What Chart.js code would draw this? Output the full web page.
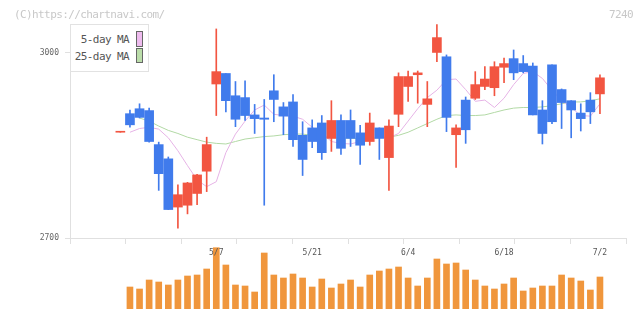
<!DOCTYPE html>
<html><head><meta charset="utf-8">
<script src="https://cdn.jsdelivr.net/npm/chart.js@4"></script>
<style>
html,body{margin:0;padding:0;background:#fff;}
#wrap{position:relative;width:640px;height:311px;overflow:hidden;background:#fff;font-family:"DejaVu Sans Mono",monospace;}
canvas{position:absolute;left:0;top:0;}
.hdr{position:absolute;top:8px;font-size:11px;letter-spacing:-0.6px;color:#c8c8c8;line-height:14px;white-space:nowrap;}
#legend{position:absolute;left:70px;top:24px;width:79px;height:48px;border:1px solid #e2e2e2;background:#fff;box-sizing:border-box;}
#legend .t{position:absolute;right:19px;font-size:11px;letter-spacing:-0.6px;line-height:14px;color:#555;white-space:nowrap;}
#legend .s{position:absolute;left:65px;width:7px;box-sizing:border-box;border:1px solid #666;}
</style></head>
<body>
<div id="wrap">
  <canvas id="vol" width="640" height="311"></canvas>
  <canvas id="price" width="640" height="311"></canvas>
  <div class="hdr" style="left:14px;">(C)https://chartnavi.com/</div>
  <div class="hdr" style="right:7px;">7240</div>
  <div id="legend">
    <div class="t" style="top:8px;">5-day MA</div>
    <div class="s" style="top:6px;height:16px;background:#eebbee;"></div>
    <div class="t" style="top:25px;">25-day MA</div>
    <div class="s" style="top:23px;height:15px;background:#bbddaa;"></div>
  </div>
</div>
<script>
const dates = ['4/18','4/19','4/22','4/23','4/24','4/25','4/26','4/30','5/1','5/2','5/7','5/8','5/9','5/10','5/13','5/14','5/15','5/16','5/17','5/20','5/21','5/22','5/23','5/24','5/27','5/28','5/29','5/30','5/31','6/3','6/4','6/5','6/6','6/7','6/10','6/11','6/12','6/13','6/14','6/17','6/18','6/19','6/20','6/21','6/24','6/25','6/26','6/27','6/28','7/1','7/2'];
const open  = [2871,2901,2909,2906,2851,2828,2750,2753,2772,2808,2949,2966,2930,2927,2899,2894,2938,2912,2920,2866,2878,2886,2861,2890,2890,2870,2856,2878,2830,2900,2945,2964,2916,3000,2993,2867,2923,2926,2945,2943,2976,2990,2982,2978,2907,2980,2940,2922,2902,2923,2933];
const high  = [2871,2907,2917,2910,2855,2831,2786,2790,2803,2863,3038,2966,2953,2954,2916,2924,2964,2919,2932,2888,2891,2898,2922,2899,2907,2882,2902,2878,2891,2967,2970,2970,2953,3045,2996,2883,2928,2969,2977,2985,2991,3004,2995,2983,2922,2980,2941,2922,2917,2935,2964];
const low   = [2871,2879,2894,2855,2777,2746,2716,2739,2754,2775,2898,2904,2880,2890,2869,2753,2888,2867,2848,2801,2846,2827,2840,2835,2848,2819,2850,2827,2777,2880,2921,2918,2880,2985,2872,2814,2853,2924,2940,2930,2951,2956,2967,2899,2852,2885,2877,2862,2873,2885,2901];
const close = [2871,2883,2895,2856,2804,2746,2770,2789,2802,2851,2969,2922,2892,2898,2893,2892,2924,2897,2859,2827,2856,2838,2890,2845,2861,2850,2886,2861,2881,2961,2961,2967,2925,3024,2895,2878,2875,2948,2957,2977,2982,2967,2969,2899,2869,2888,2919,2907,2893,2904,2959];
const volume = [null,22000,20000,29000,27000,24000,29000,33000,34000,40000,61300,44000,24000,23000,17000,56000,34000,31000,35000,31000,22000,30000,21000,25000,29000,22000,34000,38000,40000,42000,31000,23000,31000,50000,45000,46000,39000,29000,23000,20000,25000,31000,18000,21000,23000,23000,34000,31000,28000,19000,32000];
const ma5  = [null,2871,2877,2879,2876,2862,2841,2817,2794,2783,2791,2838,2868,2889,2907,2915,2900,2898,2897,2892,2879,2870,2856,2853,2852,2856,2859,2864,2862,2869,2889,2909,2927,2939,2956,2957,2940,2921,2923,2911,2926,2948,2966,2969,2958,2939,2922,2911,2898,2897,2917];
const ma25 = [null,null,2894,2889,2881,2874,2869,2863,2859,2855,2853,2852,2856,2860,2862,2864,2865,2867,2868,2868,2866,2864,2862,2862,2861,2861,2861,2862,2863,2866,2871,2878,2885,2892,2898,2899,2898,2898,2899,2903,2907,2910,2911,2911,2912,2914,2917,2920,2920,2922,2925];
const tickLabels = ['5/7','5/21','6/4','6/18','7/2'];
const priceTicks = [2700, 3000];
const priceMin = 2700, priceMax = 3046;
const volMax = 63000;

const X_MIN = -5.25, X_MAX = 52.715;
const UP = '#f25541', DOWN = '#407bec', VOLC = '#f0963c';
const GRID = '#e0e0e0';
Chart.defaults.font.family = '"DejaVu Sans Mono", monospace';
Chart.defaults.animation = false;

const isUp = dates.map((d, i) => close[i] >= open[i]);
const candleColors = isUp.map(u => u ? UP : DOWN);

// Volume chart
new Chart(document.getElementById('vol'), {
  type: 'bar',
  data: {
    datasets: [{
      data: volume.map((v, i) => ({x: i, y: v})),
      backgroundColor: VOLC,
      barThickness: 6,
      grouped: false
    }]
  },
  options: {
    responsive: false,
    animation: false,
    layout: {padding: {left: 70, right: 14, top: 246, bottom: 2}},
    plugins: {legend: {display: false}, tooltip: {enabled: false}},
    scales: {
      x: {type: 'linear', min: X_MIN, max: X_MAX, display: false, offset: false, grid: {offset: false}},
      y: {type: 'linear', min: 0, max: volMax, display: false}
    }
  }
});

// Price chart
const labelPos = tickLabels.map(l => dates.indexOf(l));
new Chart(document.getElementById('price'), {
  type: 'bar',
  data: {
    datasets: [
      {
        type: 'line', label: '5-day MA', order: 3,
        data: ma5.map((v, i) => ({x: i, y: v})),
        borderColor: '#e6b3e6', borderWidth: 1, pointRadius: 0, tension: 0, spanGaps: false
      },
      {
        type: 'line', label: '25-day MA', order: 3,
        data: ma25.map((v, i) => ({x: i, y: v})),
        borderColor: '#b2d9a5', borderWidth: 1, pointRadius: 0, tension: 0, spanGaps: false
      },
      {
        type: 'bar', label: 'wick', order: 2,
        data: dates.map((d, i) => ({x: i, y: [low[i], high[i]]})),
        backgroundColor: candleColors,
        barThickness: 1, grouped: false
      },
      {
        type: 'bar', label: 'body', order: 1,
        data: dates.map((d, i) => ({x: i, y: [open[i], close[i]]})),
        backgroundColor: candleColors,
        barThickness: 9, grouped: false, minBarLength: 1
      }
    ]
  },
  options: {
    responsive: false,
    animation: false,
    layout: {padding: {left: 0, right: 14, top: 24, bottom: 45}},
    plugins: {legend: {display: false}, tooltip: {enabled: false}},
    scales: {
      x: {
        type: 'linear', position: 'bottom', min: X_MIN, max: X_MAX, offset: false,
        grid: {offset: false, drawOnChartArea: false, color: GRID, tickLength: 6},
        border: {display: true, color: GRID},
        ticks: {display: false},
        afterBuildTicks: s => { const t = []; for (let k = 0; k <= 10; k++) t.push({value: X_MIN + (X_MAX - X_MIN) * k / 10}); s.ticks = t; },
        afterFit: s => { s.height = 8; }
      },
      x2: {
        type: 'linear', position: 'bottom', min: X_MIN, max: X_MAX, offset: false,
        grid: {display: false, drawTicks: false, offset: false},
        border: {display: false},
        ticks: {display: true, color: '#555', font: {size: 8}, padding: 2, autoSkip: false, maxRotation: 0,
                callback: v => dates[v]},
        afterBuildTicks: s => { s.ticks = labelPos.map(v => ({value: v})); },
        afterFit: s => { s.height = 20; }
      },
      y: {
        type: 'linear', position: 'left', min: priceMin, max: priceMax, beginAtZero: false,
        grid: {drawOnChartArea: false, color: GRID, tickLength: 5},
        border: {display: true, color: GRID},
        ticks: {color: '#666', font: {size: 8}, padding: 6, callback: v => String(v)},
        afterBuildTicks: s => { s.ticks = priceTicks.map(v => ({value: v})); },
        afterFit: s => { s.width = 70; }
      }
    }
  }
});
</script>
</body></html>
